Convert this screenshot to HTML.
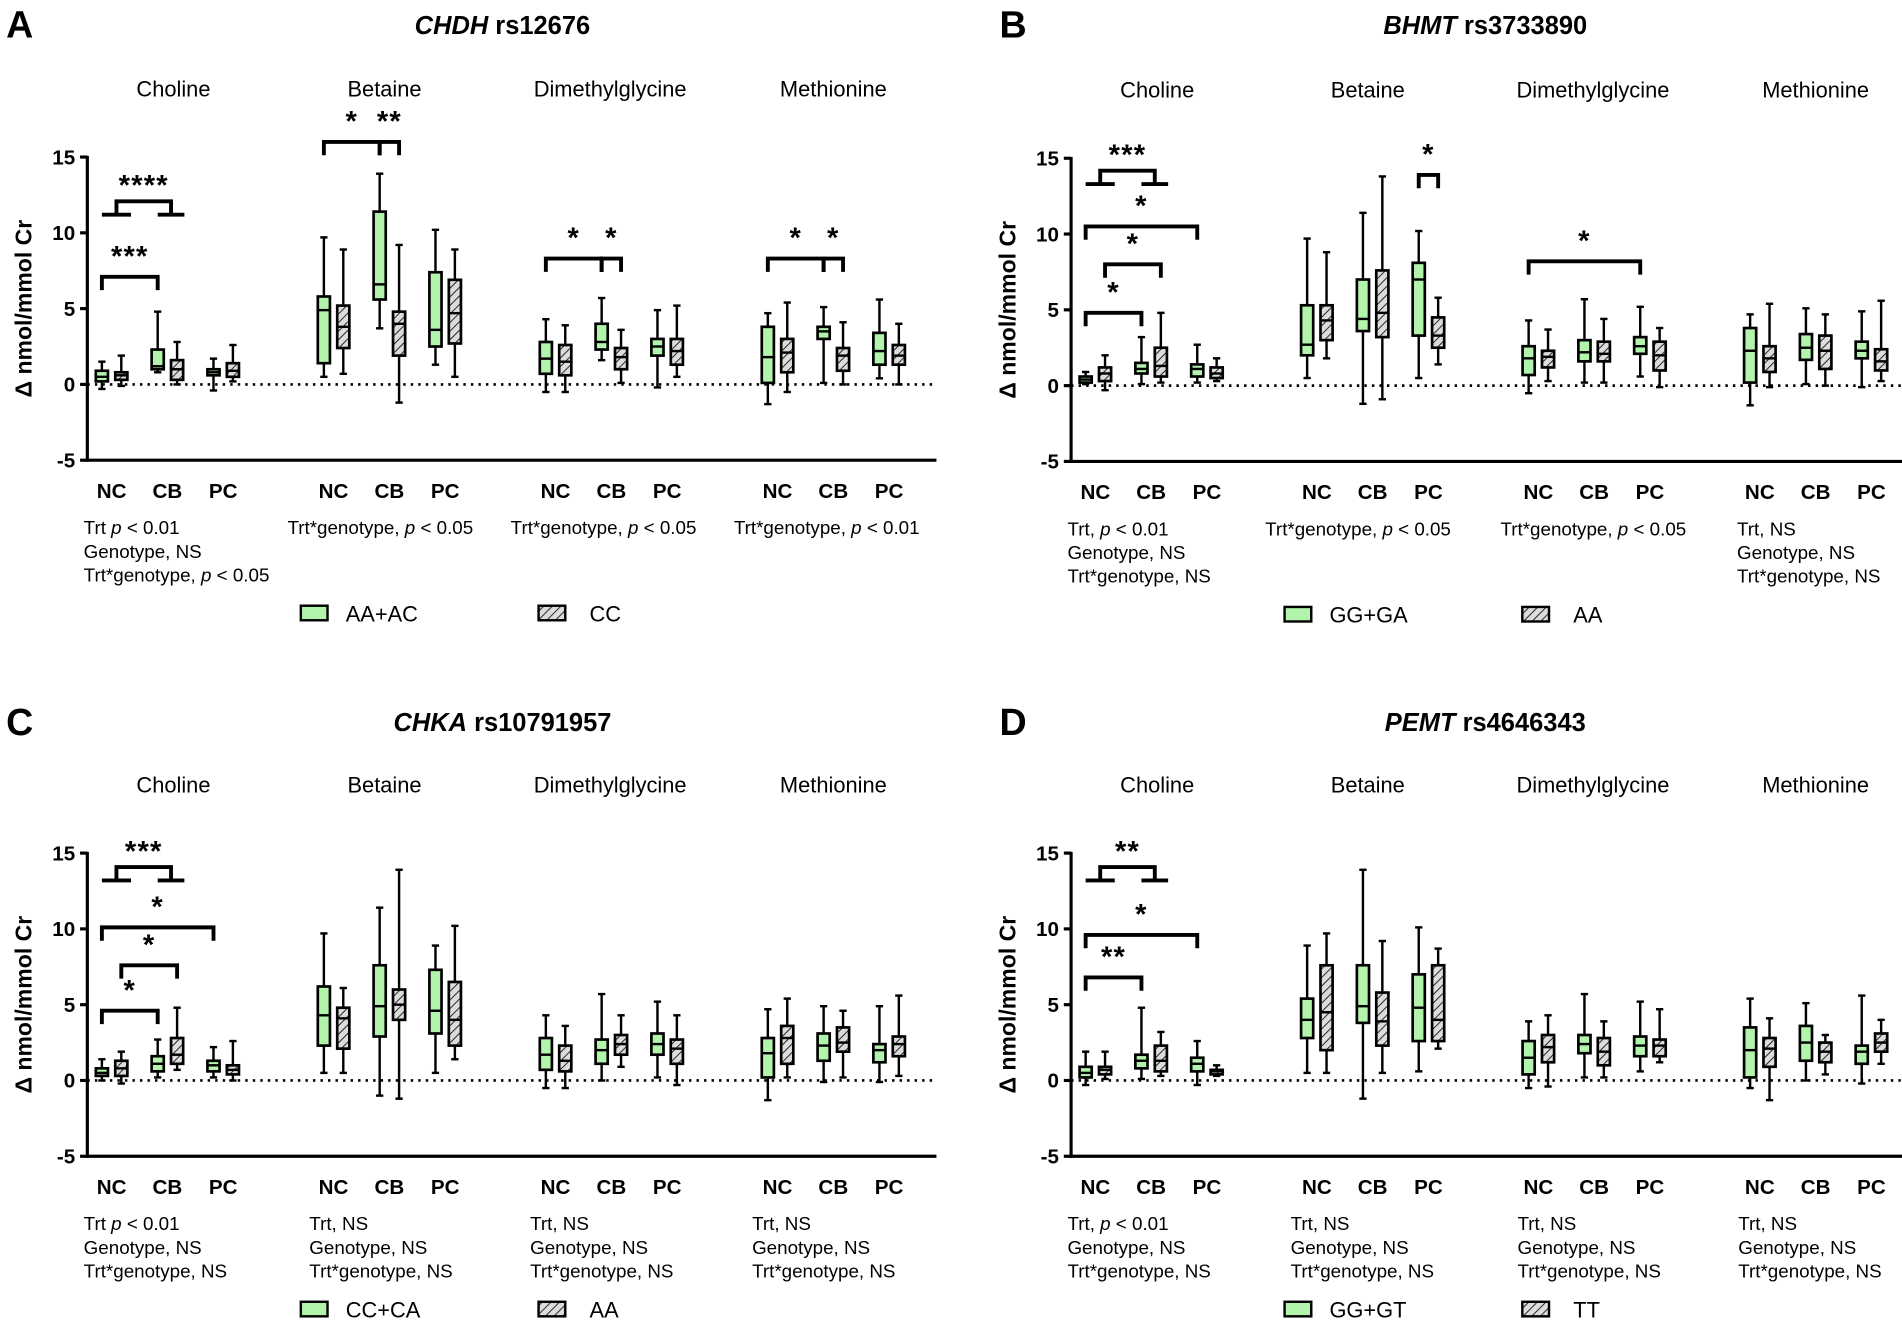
<!DOCTYPE html>
<html><head><meta charset="utf-8">
<style>
html,body{margin:0;padding:0;background:#fff;}
svg{display:block;font-family:"Liberation Sans",Arial,sans-serif;}
</style></head>
<body>
<svg id="fig" width="1902" height="1323" viewBox="0 0 1568 1091" preserveAspectRatio="none" xmlns="http://www.w3.org/2000/svg">
<defs>
<pattern id="hatch" patternUnits="userSpaceOnUse" width="5" height="5" patternTransform="rotate(45)">
<rect width="5" height="5" fill="#dcdcdc"/><line x1="0" y1="0" x2="0" y2="5" stroke="#222" stroke-width="1.6"/>
</pattern>
</defs>
</svg>
<script>
// ---------- data ----------
const metabolites = ["Choline","Betaine","Dimethylglycine","Methionine"];
const treatments = ["NC","CB","PC"];
// each box: [min, q1, median, q3, max]; order per metabolite: NC-g, NC-h, CB-g, CB-h, PC-g, PC-h
const boxesA = [
 [[-0.3,0.2,0.5,0.9,1.5],[-0.1,0.3,0.6,0.8,1.9],[0.8,1.0,1.2,2.3,4.8],[0,0.3,1.0,1.6,2.8],[-0.4,0.6,0.8,1.0,1.7],[0.2,0.5,0.9,1.4,2.6]],
 [[0.5,1.4,4.9,5.8,9.7],[0.7,2.4,3.8,5.2,8.9],[3.7,5.6,6.6,11.4,13.9],[-1.2,1.9,4.0,4.8,9.2],[1.3,2.5,3.6,7.4,10.2],[0.5,2.7,4.7,6.9,8.9]],
 [[-0.5,0.7,1.7,2.8,4.3],[-0.5,0.6,1.5,2.6,3.9],[1.6,2.3,2.8,4.0,5.7],[0.1,1.0,1.8,2.4,3.6],[-0.2,1.9,2.5,3.0,4.9],[0.5,1.3,2.2,3.0,5.2]],
 [[-1.3,0.1,1.8,3.8,4.7],[-0.5,0.8,2.1,3.0,5.4],[0.1,3.0,3.5,3.8,5.1],[0,0.9,1.9,2.4,4.1],[0.4,1.3,2.2,3.4,5.6],[0,1.3,1.9,2.6,4.0]]
];
const boxesB = [
 [[0.1,0.2,0.4,0.6,0.9],[-0.3,0.3,0.8,1.2,2.0],[0.1,0.8,1.1,1.5,3.2],[0.2,0.6,1.3,2.5,4.8],[0.2,0.6,1.1,1.4,2.7],[0.3,0.5,0.8,1.2,1.8]],
 [[0.5,2.0,2.7,5.3,9.7],[1.8,3.0,4.3,5.3,8.8],[-1.2,3.6,4.4,7.0,11.4],[-0.9,3.2,4.8,7.6,13.8],[0.5,3.3,7.0,8.1,10.2],[1.4,2.5,3.3,4.5,5.8]],
 [[-0.5,0.7,1.8,2.6,4.3],[0.3,1.2,1.9,2.3,3.7],[0.2,1.6,2.2,3.0,5.7],[0.2,1.6,2.1,2.9,4.4],[0.6,2.1,2.6,3.2,5.2],[-0.1,1.0,2.0,2.9,3.8]],
 [[-1.3,0.2,2.3,3.8,4.7],[-0.1,0.9,1.8,2.6,5.4],[0.1,1.7,2.5,3.4,5.1],[0,1.1,2.3,3.3,4.7],[-0.1,1.8,2.3,2.9,4.9],[0.3,1.0,1.6,2.4,5.6]]
];
const boxesC = [
 [[0,0.3,0.5,0.8,1.4],[-0.2,0.3,0.8,1.3,1.9],[0.2,0.6,1.1,1.6,2.7],[0.7,1.1,1.7,2.8,4.8],[0.2,0.6,1.0,1.3,2.2],[0,0.4,0.7,1.0,2.6]],
 [[0.5,2.3,4.3,6.2,9.7],[0.5,2.1,4.1,4.8,6.1],[-1.0,2.9,4.9,7.6,11.4],[-1.2,4.0,5.0,6.0,13.9],[0.5,3.1,4.6,7.3,8.9],[1.4,2.3,4.0,6.5,10.2]],
 [[-0.5,0.7,1.7,2.8,4.3],[-0.5,0.6,1.3,2.3,3.6],[0,1.1,2.0,2.7,5.7],[0.9,1.7,2.4,3.0,4.3],[0.2,1.7,2.4,3.1,5.2],[-0.3,1.1,2.1,2.7,4.3]],
 [[-1.3,0.2,1.8,2.8,4.7],[0.2,1.1,2.8,3.6,5.4],[-0.1,1.3,2.3,3.1,4.9],[0.2,1.9,2.5,3.5,4.6],[-0.1,1.2,2.0,2.4,4.9],[0.3,1.6,2.4,2.9,5.6]]
];
const boxesD = [
 [[-0.3,0.2,0.5,0.9,1.9],[0.1,0.4,0.7,0.9,1.9],[0.1,0.8,1.3,1.7,4.8],[0.3,0.6,1.3,2.3,3.2],[-0.3,0.6,1.1,1.5,2.6],[0.3,0.4,0.6,0.7,1.0]],
 [[0.5,2.8,4.0,5.4,8.9],[0.5,2.0,4.5,7.6,9.7],[-1.2,3.8,4.9,7.6,13.9],[0.5,2.3,3.9,5.8,9.2],[0.6,2.6,4.8,7.0,10.1],[2.1,2.6,4.0,7.6,8.7]],
 [[-0.5,0.4,1.5,2.6,3.9],[-0.4,1.2,2.2,3.0,4.3],[0.2,1.8,2.4,3.0,5.7],[0.2,1.0,1.9,2.8,3.9],[0.6,1.6,2.3,2.9,5.2],[1.2,1.6,2.3,2.7,4.7]],
 [[-0.5,0.2,2.0,3.5,5.4],[-1.3,0.9,2.1,2.8,4.1],[0,1.3,2.5,3.6,5.1],[0.4,1.2,1.9,2.5,3.0],[-0.2,1.1,1.9,2.3,5.6],[1.1,1.9,2.5,3.1,4.0]]
];
const yTicks = [15,10,5,0,-5];
// significance: [metabolite, fromBox, toBox, level, label, type] ; 'b' = bracket, 'g' = pooled group bracket
const sigA = [[0,0,2,7.1,"***","b"],[0,0,2,11.2,"****","g"],[1,0,2,16,"*","b"],[1,2,3,16,"**","b"],[2,0,2,8.3,"*","b"],[2,2,3,8.3,"*","b"],[3,0,2,8.3,"*","b"],[3,2,3,8.3,"*","b"]];
const sigB = [[0,0,2,4.8,"*","b"],[0,1,3,8.0,"*","b"],[0,0,4,10.5,"*","b"],[0,0,2,13.3,"***","g"],[1,4,5,13.9,"*","b"],[2,0,4,8.2,"*","b"]];
const sigC = [[0,0,2,4.6,"*","b"],[0,1,3,7.6,"*","b"],[0,0,4,10.1,"*","b"],[0,0,2,13.2,"***","g"]];
const sigD = [[0,0,2,6.8,"**","b"],[0,0,4,9.6,"*","b"],[0,0,2,13.2,"**","g"]];

const IT='<tspan font-style="italic">p</tspan>';
const panels = [
 {id:"a",letter:"A",lx:5,gene:"CHDH",snp:" rs12676",ox:72,y0:317,c0:92,gs:183,top:20,boxes:boxesA,sig:sigA,legend:["AA+AC","CC"],
  stats:[[69,["Trt "+IT+" &lt; 0.01","Genotype, NS","Trt*genotype, "+IT+" &lt; 0.05"]],[237,["Trt*genotype, "+IT+" &lt; 0.05"]],[421,["Trt*genotype, "+IT+" &lt; 0.05"]],[605,["Trt*genotype, "+IT+" &lt; 0.01"]]]},
 {id:"b",letter:"B",lx:824,gene:"BHMT",snp:" rs3733890",ox:883,y0:318,c0:903,gs:182.6,top:20,boxes:boxesB,sig:sigB,legend:["GG+GA","AA"],
  stats:[[880,["Trt, "+IT+" &lt; 0.01","Genotype, NS","Trt*genotype, NS"]],[1043,["Trt*genotype, "+IT+" &lt; 0.05"]],[1237,["Trt*genotype, "+IT+" &lt; 0.05"]],[1432,["Trt, NS","Genotype, NS","Trt*genotype, NS"]]]},
 {id:"c",letter:"C",lx:5,gene:"CHKA",snp:" rs10791957",ox:72,y0:891,c0:92,gs:183,top:595,boxes:boxesC,sig:sigC,legend:["CC+CA","AA"],
  stats:[[69,["Trt "+IT+" &lt; 0.01","Genotype, NS","Trt*genotype, NS"]],[255,["Trt, NS","Genotype, NS","Trt*genotype, NS"]],[437,["Trt, NS","Genotype, NS","Trt*genotype, NS"]],[620,["Trt, NS","Genotype, NS","Trt*genotype, NS"]]]},
 {id:"d",letter:"D",lx:824,gene:"PEMT",snp:" rs4646343",ox:883,y0:891,c0:903,gs:182.6,top:595,boxes:boxesD,sig:sigD,legend:["GG+GT","TT"],
  stats:[[880,["Trt, "+IT+" &lt; 0.01","Genotype, NS","Trt*genotype, NS"]],[1064,["Trt, NS","Genotype, NS","Trt*genotype, NS"]],[1251,["Trt, NS","Genotype, NS","Trt*genotype, NS"]],[1433,["Trt, NS","Genotype, NS","Trt*genotype, NS"]]]}
];
const labelOffsets=[5,-4,-1,0];

const NS="http://www.w3.org/2000/svg";
const svg=document.getElementById('fig');
function mk(tag,attrs,parent){const e=document.createElementNS(NS,tag);for(const k in attrs)e.setAttribute(k,attrs[k]);(parent||svg).appendChild(e);return e;}
const PPU=12.5;

panels.forEach(p=>{
  const g=mk('g',{});
  
  
  const Y=v=>p.y0-v*PPU;
  const pairX=(m,t)=>p.c0+m*p.gs+t*46;
  const boxX=(m,b)=>pairX(m,Math.floor(b/2))+(b%2===0?-8:8);
  const L=mk('text',{x:p.lx,y:p.top+11,'font-size':31,'font-weight':'bold'},g);L.textContent=p.letter;
  
  
  const T=mk('text',{x:p.ox+p.gs*1.87,y:p.top+8,'font-size':21,'font-weight':'bold','text-anchor':'middle'},g);
  T.innerHTML='<tspan font-style="italic">'+p.gene+'</tspan>'+p.snp;
  
  
  metabolites.forEach((m,i)=>{
    const t=mk('text',{x:pairX(i,1)+labelOffsets[i],y:Y(15)-50,'font-size':18,'text-anchor':'middle'},g);t.textContent=m;
    
    
  });
  const ax=mk('line',{x1:p.ox,y1:Y(15)-1,x2:p.ox,y2:Y(-5)+1.3,stroke:'#000','stroke-width':2.6},g);
  
  
  const xa=mk('line',{x1:p.ox-1,y1:Y(-5),x2:p.ox+700,y2:Y(-5),stroke:'#000','stroke-width':2.6},g);
  
  
  const zl=mk('line',{x1:p.ox,y1:Y(0),x2:p.ox+700,y2:Y(0),stroke:'#000','stroke-width':2.2,'stroke-dasharray':'2 4.2'},g);
  
  
  yTicks.forEach(v=>{
    mk('line',{x1:p.ox-6,y1:Y(v),x2:p.ox,y2:Y(v),stroke:'#000','stroke-width':2.6},g);
    const t=mk('text',{x:p.ox-10,y:Y(v)+6,'font-size':17,'font-weight':'bold','text-anchor':'end'},g);t.textContent=v;
    
    
  });
  const yl=mk('text',{x:0,y:0,'font-size':19,'font-weight':'bold','text-anchor':'middle',transform:`translate(${p.ox-46},${Y(5)}) rotate(-90)`},g);
  yl.textContent='Δ nmol/mmol Cr';
  
  
  metabolites.forEach((m,i)=>treatments.forEach((tr,j)=>{
    const t=mk('text',{x:pairX(i,j),y:Y(-5)+31,'font-size':17,'font-weight':'bold','text-anchor':'middle'},g);t.textContent=tr;
    
    
  }));
  p.boxes.forEach((arr,m)=>arr.forEach((b,k)=>{
    const x=boxX(m,k),w=10;
    const bg=mk('g',{},g);
    
    
    mk('line',{x1:x,y1:Y(b[0]),x2:x,y2:Y(b[4]),stroke:'#000','stroke-width':2},bg);
    mk('line',{x1:x-3,y1:Y(b[0]),x2:x+3,y2:Y(b[0]),stroke:'#000','stroke-width':2},bg);
    mk('line',{x1:x-3,y1:Y(b[4]),x2:x+3,y2:Y(b[4]),stroke:'#000','stroke-width':2},bg);
    mk('rect',{x:x-w/2,y:Y(b[3]),width:w,height:Math.max(1,Y(b[1])-Y(b[3])),fill:k%2?'url(#hatch)':'#b2f4ab',stroke:'#000','stroke-width':2.2},bg);
    mk('line',{x1:x-w/2,y1:Y(b[2]),x2:x+w/2,y2:Y(b[2]),stroke:'#000','stroke-width':2},bg);
  }));
  p.sig.forEach(s=>{
    const [m,a,b,lev,lab,type]=s;
    const sg=mk('g',{},g);
    
    
    const yy=Y(lev);
    let cx;
    if(type==='b'){
      const x1=boxX(m,a),x2=boxX(m,b);
      mk('path',{d:`M${x1} ${yy+11}V${yy}H${x2}V${yy+11}`,fill:'none',stroke:'#000','stroke-width':3.2},sg);
      cx=(x1+x2)/2;
    } else {
      const l1=boxX(m,a),l2=boxX(m,a+1)+8,r1=boxX(m,b),r2=boxX(m,b+1)+6;
      mk('line',{x1:l1,y1:yy,x2:l2,y2:yy,stroke:'#000','stroke-width':3.2},sg);
      mk('line',{x1:r1,y1:yy,x2:r2,y2:yy,stroke:'#000','stroke-width':3.2},sg);
      const c1=(l1+l2)/2,c2=(r1+r2)/2;
      mk('path',{d:`M${c1} ${yy}V${yy-11}H${c2}V${yy}`,fill:'none',stroke:'#000','stroke-width':3.2},sg);
      cx=(c1+c2)/2;
    }
    const t=mk('text',{x:cx,y:yy-(type==='g'?16:9),'font-size':24,'font-weight':'bold','text-anchor':'middle','letter-spacing':'1'},sg);
    t.textContent=lab;
  });
  p.stats.forEach(st=>{
    st[1].forEach((line,i)=>{
      const t=mk('text',{x:st[0],y:Y(-5)+61+i*19.5,'font-size':15.5},g);t.innerHTML=line;
      
      
    });
  });
  const ly=Y(-5)+126;
  const lg=mk('g',{},g);
  
  
  const lx=p.ox+176;
  mk('rect',{x:lx,y:ly-6,width:22,height:12,fill:'#b2f4ab',stroke:'#000','stroke-width':2},lg);
  const t1=mk('text',{x:lx+37,y:ly+7,'font-size':18},lg);t1.textContent=p.legend[0];
  mk('rect',{x:lx+196,y:ly-6,width:22,height:12,fill:'url(#hatch)',stroke:'#000','stroke-width':2},lg);
  const t2=mk('text',{x:lx+238,y:ly+7,'font-size':18},lg);t2.textContent=p.legend[1];
});
</script>
</body></html>
